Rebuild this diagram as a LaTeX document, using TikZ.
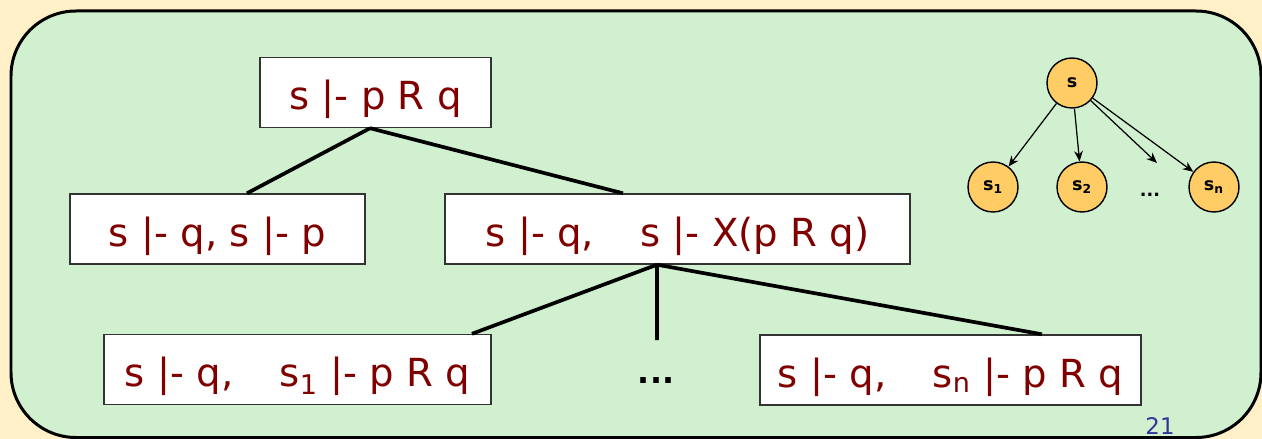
\documentclass[tikz,border=0pt]{standalone}
\usepackage{fontspec}
\setmainfont{DejaVu Sans}
\usetikzlibrary{arrows.meta}
\definecolor{pagebeige}{RGB}{255,240,200}
\definecolor{panelgreen}{RGB}{208,240,208}
\definecolor{termred}{RGB}{128,0,0}
\definecolor{pageblue}{RGB}{51,51,153}
\definecolor{stateorange}{RGB}{255,204,102}
\tikzset{
	x=0.02cm,
	y=-0.02cm,
	goal/.style = {
		shape=rectangle,
		draw=black!80,
		fill=white,
		line width=0.8pt,
		text=termred,
		font=\fontsize{22}{26}\selectfont,
		minimum height=1.4cm,
		text height=0.8cm,
		text depth=0.1cm,
		inner sep=0pt
	},
	state/.style = {
		shape=circle,
		draw,
		fill=stateorange,
		line width=0.8pt,
		minimum size=1cm,
		inner sep=0pt,
		font=\bfseries\fontsize{10}{12}\selectfont
	},
	branch/.style = {line width=2.1pt},
	succ/.style = {-{Stealth[length=6pt,width=5pt]}, line width=0.7pt}
}

\begin{document}
\begin{tikzpicture}
	\useasboundingbox (0,0) rectangle (1262,439);
	\fill[pagebeige] (0,0) rectangle (1262,439);
	\draw[line width=0.06cm, fill=panelgreen, rounded corners=1.3cm] (11,11) rectangle (1261,437.5);

	\node[goal, minimum width=4.62cm] (root) at (375.5,92.5) {s |- p R q};
	\node[goal, minimum width=5.9cm] (now) at (217.5,229) {s |- q, s |- p};
	\node[goal, minimum width=9.3cm] (next) at (677.5,229) {s |- q,\hspace{1.2em}s |- X(p R q)};
	\node[goal, minimum width=7.74cm] (first) at (297.5,369.5) {s |- q,\hspace{1.2em}s\textsubscript{1} |- p R q};
	\node[goal, minimum width=7.62cm] (last) at (950.5,370) {s |- q,\hspace{1.2em}s\textsubscript{n} |- p R q};
	\node[font=\bfseries\fontsize{18}{22}\selectfont] (more) at (656,381) {...};
	\coordinate (moretop) at (657,340);

	\draw[branch] ([xshift=-0.11cm]root.south) -- ([xshift=0.59cm]now.north);
	\draw[branch] ([xshift=-0.11cm]root.south) -- ([xshift=-1.09cm]next.north);
	\draw[branch] ([xshift=-0.41cm]next.south) -- ([xshift=3.49cm]first.north);
	\draw[branch] ([xshift=-0.41cm]next.south) -- (moretop);
	\draw[branch] ([xshift=-0.41cm]next.south) -- ([xshift=1.83cm]last.north);

	\node[state] (s) at (1072,83) {s};
	\node[state] (s1) at (993,187) {s\textsubscript{1}};
	\node[state] (s2) at (1082,187) {s\textsubscript{2}};
	\node[state] (sn) at (1214,187) {s\textsubscript{n}};
	\node[font=\bfseries\fontsize{10}{12}\selectfont] (sdots) at (1150,195) {...};
	\coordinate (sdotstop) at (1157,163);

	\draw[succ] (s) -- (s1);
	\draw[succ] (s) -- (s2);
	\draw[succ] (s) -- (sdotstop);
	\draw[succ] (s) -- (sn);

	\node[text=pageblue, font=\fontsize{13}{15}\selectfont] (page) at (1160,426) {21};
\end{tikzpicture}
\end{document}
